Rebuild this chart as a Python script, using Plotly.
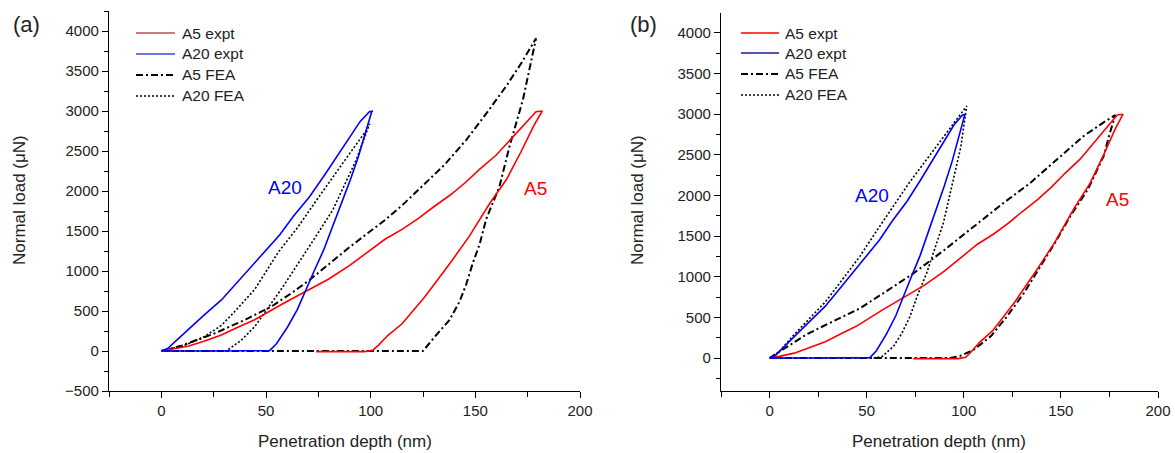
import plotly.graph_objects as go

W, H = 1175, 453

# ---------------- data (nm, µN) ----------------
# experimental curves (same experiments shown in both panels)
a5_expt_x = [0, 5, 12.7, 20, 28.7, 36, 44.6, 58, 69, 80, 90, 100, 107, 115, 123, 130, 138, 145, 152, 160, 168, 175, 179, 182,
             182, 178, 172, 165, 157, 147, 138, 126, 115, 108, 104, 101, 97, 85, 74]
a5_expt_y = [0, 20, 60, 120, 200, 290, 390, 590, 740, 900, 1070, 1270, 1400, 1520, 1660, 1800, 1950, 2100, 2270, 2450, 2680, 2880, 2990, 3000,
             3000, 2820, 2500, 2150, 1850, 1430, 1100, 680, 340, 190, 80, 10, -8, -10, -8]

a20_expt_x = [0, 3, 12.7, 20, 28.7, 36, 44.6, 56.5, 63, 70.8, 78, 85, 90, 95, 99.4, 101,
              101, 100.5, 99, 97, 94, 90, 86, 82, 77.5, 73, 69, 65, 60.3, 55, 51.7, 40, 20, 0]
a20_expt_y = [0, 30, 263, 440, 638, 850, 1096, 1450, 1680, 1929, 2200, 2480, 2680, 2870, 2990, 3000,
              3000, 2990, 2860, 2680, 2420, 2120, 1850, 1580, 1260, 1000, 760, 520, 300, 90, 5, 0, 0, 0]

# FEA, panel (a)
a_a5_fea_x = [0, 10, 25.5, 40, 52.5, 62, 70.8, 80.4, 90, 99.5, 107, 115.4, 123.3, 135, 145.6, 155, 165, 172, 179,
              179, 172.7, 166.3, 161.5, 155.2, 152, 148.8, 145.6, 142.5, 137.7, 131, 125, 100, 50, 0]
a_a5_fea_y = [0, 70, 221, 390, 554, 720, 888, 1096, 1300, 1491, 1640, 1830, 2030, 2320, 2637, 2960, 3320, 3600, 3908,
              3908, 3137, 2554, 2054, 1650, 1330, 1100, 830, 620, 388, 190, 0, 0, 0, 0]

a_a20_fea_x = [0, 10, 20, 28.7, 36, 44.6, 56, 65, 74, 82, 90, 98, 99.5,
               99.5, 93.1, 87, 81.9, 74, 67.6, 58.1, 51, 44.6, 38, 31, 15, 0]
a_a20_fea_y = [0, 60, 170, 320, 520, 770, 1240, 1540, 1880, 2180, 2470, 2760, 2840,
               2840, 2388, 2050, 1763, 1440, 1179, 804, 540, 304, 130, 0, 0, 0]

# FEA, panel (b)
b_a5_fea_x = [0, 10, 19, 30, 46.5, 60, 74, 90, 105, 120, 134, 148, 161.6, 172, 178,
              178, 175, 172, 164, 154.8, 147, 139.3, 131, 122.2, 114, 105, 98, 93, 60, 0]
b_a5_fea_y = [0, 150, 290, 420, 610, 820, 1040, 1330, 1620, 1900, 2150, 2440, 2730, 2900, 2990,
              2990, 2750, 2485, 2080, 1744, 1420, 1127, 800, 510, 270, 99, 25, 0, 0, 0]

b_a20_fea_x = [0, 5, 12.7, 20, 28.7, 37, 46.5, 55, 63.7, 72, 80.9, 90, 97, 101.5,
               101.5, 98.5, 94, 89.5, 85, 80.9, 76, 72.3, 68, 63.7, 58, 54, 30, 0]
b_a20_fea_y = [0, 80, 290, 470, 690, 950, 1251, 1560, 1868, 2160, 2444, 2740, 2960, 3102,
               3102, 2600, 2150, 1663, 1340, 1046, 760, 510, 300, 140, 20, 0, 0, 0]

legend_labels = ["A5 expt", "A20 expt", "A5 FEA", "A20 FEA"]
x_ticks = [0, 50, 100, 150, 200]
y_ticks = [-500, 0, 500, 1000, 1500, 2000, 2500, 3000, 3500, 4000]

RED = "#ff0000"
BLUE = "#0000ff"
FONT = "Liberation Sans, Arial, sans-serif"
DASHDOT = "7px,3px,2px,3px"
DOT = "2px,2px"


def px(x):
    return x / W


def py(y):
    return 1 - y / H


fig = go.Figure()

panels = [
    dict(xa="x", ya="y", a5=(a_a5_fea_x, a_a5_fea_y), a20=(a_a20_fea_x, a_a20_fea_y)),
    dict(xa="x2", ya="y2", a5=(b_a5_fea_x, b_a5_fea_y), a20=(b_a20_fea_x, b_a20_fea_y)),
]
for p in panels:
    fig.add_trace(go.Scatter(x=p["a20"][0], y=p["a20"][1], mode="lines", xaxis=p["xa"], yaxis=p["ya"],
                             line=dict(color="black", width=1.6, dash=DOT), showlegend=False, name="A20 FEA"))
    fig.add_trace(go.Scatter(x=p["a5"][0], y=p["a5"][1], mode="lines", xaxis=p["xa"], yaxis=p["ya"],
                             line=dict(color="black", width=2, dash=DASHDOT), showlegend=False, name="A5 FEA"))
    fig.add_trace(go.Scatter(x=a5_expt_x, y=a5_expt_y, mode="lines", xaxis=p["xa"], yaxis=p["ya"],
                             line=dict(color=RED, width=1.6), showlegend=False, name="A5 expt"))
    fig.add_trace(go.Scatter(x=a20_expt_x, y=a20_expt_y, mode="lines", xaxis=p["xa"], yaxis=p["ya"],
                             line=dict(color=BLUE, width=1.6), showlegend=False, name="A20 expt"))

axis_common = dict(showgrid=False, zeroline=False, showline=True, linecolor="black", linewidth=1.3,
                   ticks="outside", ticklen=6, tickwidth=1.2, tickcolor="black", automargin=False,
                   tickfont=dict(family=FONT, size=15, color="#222"), mirror=False)

fig.update_layout(
    template="none",
    width=W, height=H, margin=dict(l=0, r=0, t=0, b=0, pad=0),
    paper_bgcolor="white", plot_bgcolor="white", showlegend=False,
    xaxis=dict(domain=[px(109), px(580)], range=[-25, 200], anchor="y", tickvals=x_ticks,
               minor=dict(dtick=25, tick0=0, ticks="outside", ticklen=5, tickcolor="black", tickwidth=1.2),
               **axis_common),
    yaxis=dict(domain=[py(391), py(11)], range=[-500, 4250], anchor="x", tickvals=y_ticks,
               minor=dict(dtick=250, tick0=0, ticks="outside", ticklen=4, tickcolor="black", tickwidth=1.2),
               **axis_common),
    xaxis2=dict(domain=[px(721), px(1158)], range=[-25, 200], anchor="y2", tickvals=x_ticks,
                minor=dict(dtick=25, tick0=0, ticks="outside", ticklen=5, tickcolor="black", tickwidth=1.2),
                **axis_common),
    yaxis2=dict(domain=[py(391), py(13)], range=[-406, 4246], anchor="x2", tickvals=y_ticks[1:],
                minor=dict(dtick=250, tick0=0, ticks="outside", ticklen=4, tickcolor="black", tickwidth=1.2),
                **axis_common),
)

ann = []
shapes = []


def text(x, y, s, size, color="#222", xanchor="center", angle=0):
    ann.append(dict(x=px(x), y=py(y), xref="paper", yref="paper", text=s, showarrow=False,
                    xanchor=xanchor, yanchor="middle", textangle=angle,
                    font=dict(family=FONT, size=size, color=color)))


# panel labels
text(26, 25, "(a)", 22)
text(643, 25, "(b)", 22)
# axis titles
text(345, 441, "Penetration depth (nm)", 17)
text(939, 441, "Penetration depth (nm)", 17)
text(19, 200, "Normal load (μN)", 17, angle=-90)
text(637, 200, "Normal load (μN)", 17, angle=-90)
# curve labels
text(285, 187, "A20", 19, BLUE)
text(535, 188, "A5", 19, RED)
text(872, 195, "A20", 19, BLUE)
text(1117, 199, "A5", 19, RED)

# legends (drawn manually)
leg_styles = [
    [("#c04a4a", 1.6, "solid"), ("#3c4fd4", 1.6, "solid"), ("black", 2, DASHDOT), ("black", 1.6, DOT)],
    [(RED, 1.6, "solid"), ("#1c1c9c", 1.6, "solid"), ("black", 2, DASHDOT), ("black", 1.6, DOT)],
]
leg_pos = [
    dict(x0=136, x1=175, tx=180, rows=[33, 54, 75, 96]),
    dict(x0=741, x1=779, tx=783, rows=[33, 53, 74, 95]),
]
for styles, pos in zip(leg_styles, leg_pos):
    for lab, (c, w, d), ry in zip(legend_labels, styles, pos["rows"]):
        shapes.append(dict(type="line", xref="paper", yref="paper", x0=px(pos["x0"]), x1=px(pos["x1"]),
                           y0=py(ry), y1=py(ry), line=dict(color=c, width=w, dash=d)))
        text(pos["tx"], ry, lab, 15.5, xanchor="left")

fig.update_layout(annotations=ann, shapes=shapes)
fig.write_html("out.html")
